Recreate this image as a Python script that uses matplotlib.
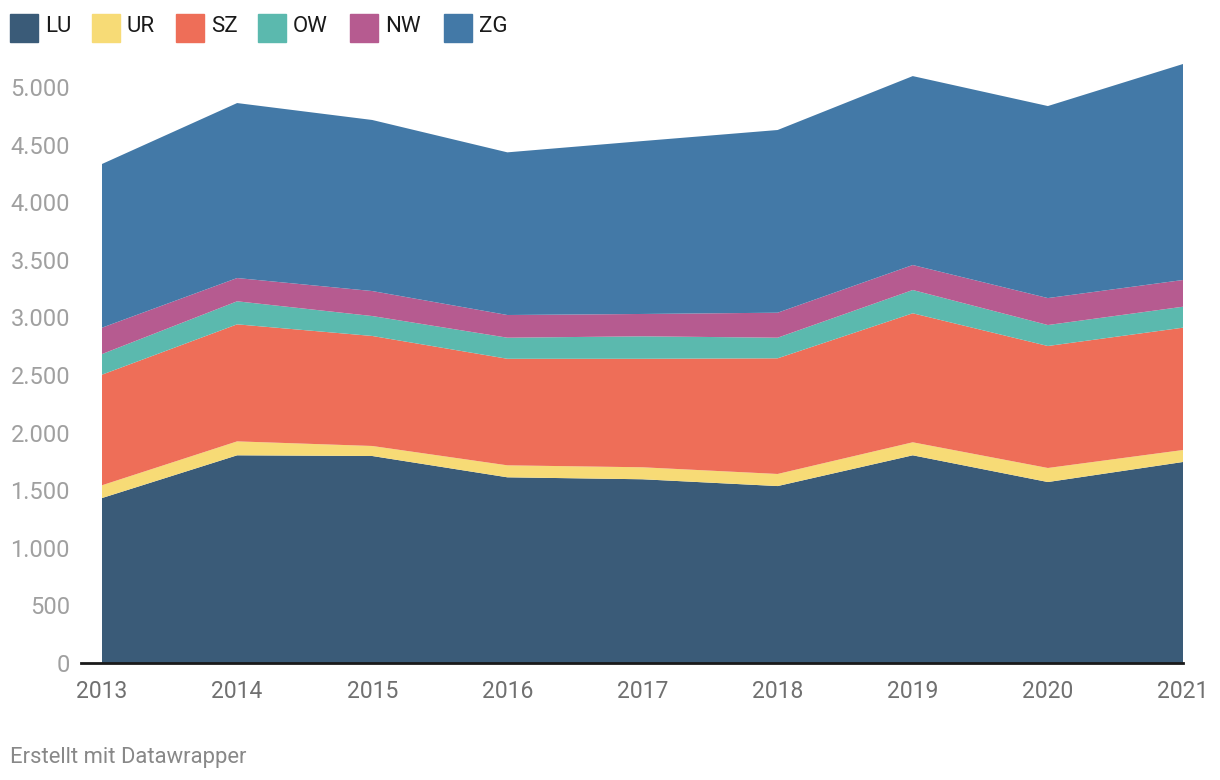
import matplotlib.pyplot as plt
from matplotlib.patches import Rectangle
from matplotlib.lines import Line2D
from matplotlib.ticker import FuncFormatter

plt.rcParams['font.family'] = ['Roboto', 'DejaVu Sans']

years = [2013, 2014, 2015, 2016, 2017, 2018, 2019, 2020, 2021]
LU = [1432, 1803, 1797, 1612, 1595, 1536, 1803, 1571, 1745]
UR = [111, 121, 87, 104, 104, 105, 113, 122, 104]
SZ = [960, 1016, 955, 925, 942, 1004, 1120, 1059, 1062]
OW = [179, 200, 173, 183, 195, 179, 202, 182, 182]
NW = [229, 202, 217, 197, 194, 217, 217, 234, 232]
ZG = [1421, 1519, 1485, 1412, 1501, 1586, 1640, 1667, 1875]

names = ['LU', 'UR', 'SZ', 'OW', 'NW', 'ZG']
colors = ['#3a5b78', '#f7db76', '#ee6e58', '#5bb9ae', '#b65b90', '#4379a7']

fig = plt.figure(figsize=(12.2, 7.8), dpi=100)
ax = fig.add_axes([102 / 1220, 117 / 780, 1081 / 1220, 599 / 780])

ax.stackplot(years, LU, UR, SZ, OW, NW, ZG, colors=colors, linewidth=0)

ax.set_xlim(2013, 2021)
ax.set_ylim(0, 5200)
ax.set_yticks(range(0, 5001, 500))
ax.yaxis.set_major_formatter(FuncFormatter(lambda v, p: f"{int(v):,}".replace(',', '.')))
ax.set_xticks(years)

for s in ax.spines.values():
    s.set_visible(False)
ax.tick_params(axis='both', length=0)
ax.tick_params(axis='y', labelsize=17, labelcolor='#a0a0a0', pad=23)
ax.tick_params(axis='x', labelsize=16.5, labelcolor='#707070', pad=12)

# baseline
ax.add_line(Line2D([-0.019, 1], [0, 0], transform=ax.transAxes, color='#1a1a1a',
                   lw=2, clip_on=False))

# legend
leg_x = [10, 92, 176, 258, 350, 444]
for x, n, c in zip(leg_x, names, colors):
    fig.add_artist(Rectangle((x / 1220, 1 - 42 / 780), 28 / 1220, 28 / 780,
                             transform=fig.transFigure, color=c))
    fig.text((x + 35) / 1220, 1 - 27 / 780, n, fontsize=16, color='#1a1a1a',
             va='center', ha='left')

fig.text(10 / 1220, 1 - 757 / 780, 'Erstellt mit Datawrapper', fontsize=15.8,
         color='#888888', va='center', ha='left')

fig.savefig('out.png', dpi=100)
